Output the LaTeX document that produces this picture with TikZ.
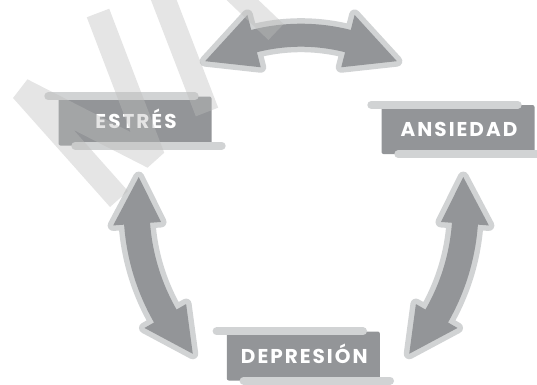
\documentclass[tikz,border=0pt]{standalone}
\usepackage{fontspec}
\newfontfamily\labfont{Poppins}[LetterSpace=10]
\definecolor{fillg}{HTML}{939598}
\definecolor{outg}{HTML}{D1D3D4}
\definecolor{wmark}{HTML}{BDBDBD}
\tikzset{
  arrowfill/.style={fill=fillg, preaction={draw=outg, line width=11pt, line join=round}},
  barline/.style={draw=outg, line width=8pt, line cap=round},
  labbox/.style={fill=fillg, rounded corners=2pt, minimum width=153pt, minimum height=49pt, inner sep=0pt},
  labtext/.style={text=white, anchor=base, inner sep=0pt, font=\labfont\bfseries\fontsize{20}{20}\selectfont},
  wmstroke/.style={draw=wmark, line width=24pt, line cap=butt, line join=bevel},
}
% #1 cx, #2 cy, #3 R, #4 half shaft, #5 half head, #6 tipA, #7 baseA, #8 baseB, #9 tipB
\newcommand{\curvarrow}[9]{%
  \begin{scope}[shift={(#1,#2)}]
    \path[arrowfill] ({#6}:{#3}) -- ({#7}:{#3+#5}) -- ({#7}:{#3+#4})
      -- plot[domain=#7:#8, samples=40] ({(#3+#4)*cos(\x)},{(#3+#4)*sin(\x)})
      -- ({#8}:{#3+#5}) -- ({#9}:{#3}) -- ({#8}:{#3-#5}) -- ({#8}:{#3-#4})
      -- plot[domain=#8:#7, samples=40] ({(#3-#4)*cos(\x)},{(#3-#4)*sin(\x)})
      -- ({#7}:{#3-#5}) -- cycle;
  \end{scope}}
\newcommand{\labelbox}[4]{%
  \node[labbox] (#1) at (#2,#3) {};
  \draw[barline] ([xshift=-10pt]#1.north west) -- ([xshift=-17pt]#1.north east);
  \draw[barline] ([xshift=17pt]#1.south west) -- ([xshift=10pt]#1.south east);
  \node[labtext] (#1-t) at ([xshift=1pt, yshift=-7pt]#1.center) {#4};}
\begin{document}
\begin{tikzpicture}[x=1pt, y=-1pt]
  \useasboundingbox (0,0) rectangle (537,384);
  \clip (0,0) rectangle (537,384);
  % arrows
  \curvarrow{301}{225.2}{190}{11.5}{27}{239.7}{255.7}{284.3}{300.3}
  \curvarrow{353.5}{208}{217}{13}{24}{188.2}{175.85}{150.15}{137.8}
  \curvarrow{248.5}{208}{217}{13}{24}{-8.2}{4.15}{29.85}{42.2}
  % boxes
  \labelbox{estres}{135}{121}{ESTRÉS}
  \labelbox{ansiedad}{458}{129.5}{ANSIEDAD}
  \labelbox{depresion}{303.3}{356}{DEPRESIÓN}
  % watermark
  \begin{scope}[transparency group, opacity=0.4]
    \draw[wmstroke] (119,199) -- (22,90) -- (153,157) -- (98,13);
    \draw[wmstroke] (158,-15) -- (207,112);
    \draw[wmstroke, line width=22pt] (232,-10) -- (276,32);
  \end{scope}
\end{tikzpicture}
\end{document}
